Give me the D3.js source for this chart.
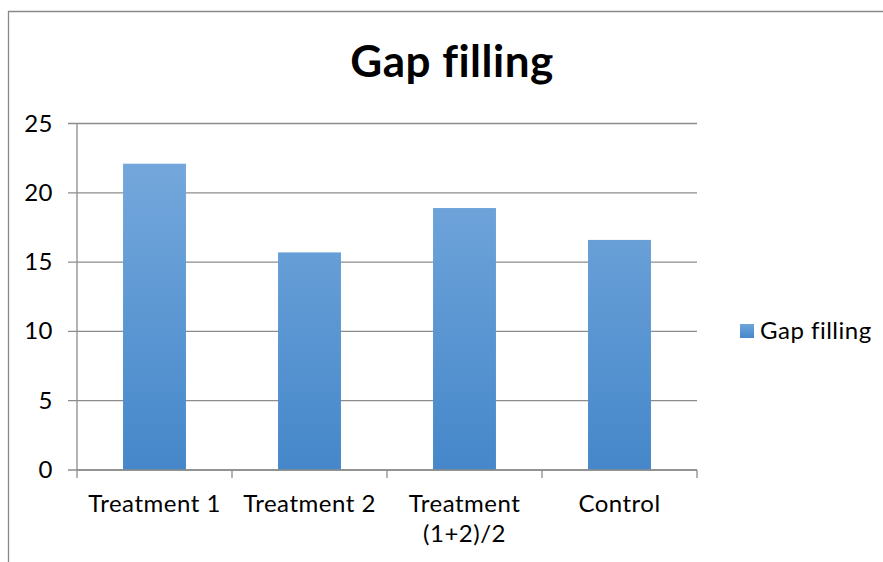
<!DOCTYPE html>
<html>
<head>
<meta charset="utf-8">
<script src="https://cdn.jsdelivr.net/npm/d3@7"></script>
<style>
  html, body { margin: 0; padding: 0; background: #fff; }
  svg { display: block; font-family: Lato, "Open Sans", sans-serif; }
</style>
</head>
<body>
<svg id="chart" width="883" height="562"></svg>
<script>
// Gap filling results per treatment
const categories = ["Treatment 1", "Treatment 2", "Treatment (1+2)/2", "Control"];
const categoryLines = [["Treatment 1"], ["Treatment 2"], ["Treatment", "(1+2)/2"], ["Control"]];
const values = [22.1, 15.7, 18.9, 16.6];
const yTicks = [0, 5, 10, 15, 20, 25];
const seriesName = "Gap filling";
const chartTitle = "Gap filling";

const svg = d3.select("#chart");
const plot = { left: 77, right: 697, top: 123.5, bottom: 470 };
const labelSize = 24;

// outer chart frame (left and top edges visible)
svg.append("path")
  .attr("d", "M8.5,562 V11.5 H883")
  .attr("fill", "none")
  .attr("stroke", "#888")
  .attr("stroke-width", 1.3);

const x = d3.scaleBand()
  .domain(categories)
  .range([plot.left, plot.right])
  .paddingInner(0.594)
  .paddingOuter(0.297);

const xCat = d3.scaleBand()
  .domain(categories)
  .range([plot.left, plot.right]);

const y = d3.scaleLinear()
  .domain([0, 25])
  .range([plot.bottom, plot.top]);

// gradient fill for bars
const defs = svg.append("defs");
const grad = defs.append("linearGradient")
  .attr("id", "barGrad")
  .attr("gradientUnits", "userSpaceOnUse")
  .attr("x1", 0).attr("x2", 0)
  .attr("y1", y(25)).attr("y2", y(0));
grad.append("stop").attr("offset", "0%").attr("stop-color", "#7AACDE");
grad.append("stop").attr("offset", "100%").attr("stop-color", "#4587CA");

const legGrad = defs.append("linearGradient")
  .attr("id", "legGrad")
  .attr("x1", 0).attr("x2", 0).attr("y1", 0).attr("y2", 1);
legGrad.append("stop").attr("offset", "0%").attr("stop-color", "#6FA6DC");
legGrad.append("stop").attr("offset", "100%").attr("stop-color", "#4587CA");

// horizontal gridlines with left tick stubs
svg.append("g")
  .selectAll("line")
  .data(yTicks)
  .join("line")
  .attr("x1", plot.left - 9)
  .attr("x2", plot.right)
  .attr("y1", d => y(d))
  .attr("y2", d => y(d))
  .attr("stroke", "#8c8c8c")
  .attr("stroke-width", 1.3);

// y axis line
svg.append("line")
  .attr("x1", plot.left).attr("x2", plot.left)
  .attr("y1", plot.top).attr("y2", plot.bottom)
  .attr("stroke", "#8c8c8c")
  .attr("stroke-width", 1.3);

// y tick labels
svg.append("g")
  .selectAll("text")
  .data(yTicks)
  .join("text")
  .attr("x", 53)
  .attr("y", d => y(d) + 8)
  .attr("text-anchor", "end")
  .attr("font-size", labelSize)
  .attr("letter-spacing", "0.5px")
  .attr("fill", "#000")
  .text(d => d);

// bars
svg.append("g")
  .selectAll("rect")
  .data(values)
  .join("rect")
  .attr("x", (d, i) => x(categories[i]))
  .attr("width", x.bandwidth())
  .attr("y", d => y(d))
  .attr("height", d => y(0) - y(d))
  .attr("fill", "url(#barGrad)");

// x axis line and category boundary ticks
svg.append("line")
  .attr("x1", plot.left).attr("x2", plot.right)
  .attr("y1", plot.bottom).attr("y2", plot.bottom)
  .attr("stroke", "#8c8c8c")
  .attr("stroke-width", 1.3);

const boundaries = categories.map(c => xCat(c)).concat([plot.right]);
svg.append("g")
  .selectAll("line")
  .data(boundaries)
  .join("line")
  .attr("x1", d => d).attr("x2", d => d)
  .attr("y1", plot.bottom).attr("y2", plot.bottom + 8)
  .attr("stroke", "#8c8c8c")
  .attr("stroke-width", 1.3);

// category labels
const labels = svg.append("g")
  .selectAll("text")
  .data(categories)
  .join("text")
  .attr("x", d => xCat(d) + xCat.bandwidth() / 2)
  .attr("y", 512)
  .attr("text-anchor", "middle")
  .attr("font-size", labelSize)
  .attr("letter-spacing", "0.5px")
  .attr("fill", "#000");
labels.each(function(d, i) {
  d3.select(this).selectAll("tspan")
    .data(categoryLines[i])
    .join("tspan")
    .attr("x", xCat(d) + xCat.bandwidth() / 2)
    .attr("dy", (t, j) => j === 0 ? 0 : 30)
    .text(t => t);
});

// title
svg.append("text")
  .attr("x", 452)
  .attr("y", 77)
  .attr("text-anchor", "middle")
  .attr("font-size", 44)
  .attr("font-weight", "bold")
  .attr("letter-spacing", "0.5px")
  .attr("fill", "#000")
  .text(chartTitle);

// legend
const legend = svg.append("g");
legend.append("rect")
  .attr("x", 740).attr("y", 324)
  .attr("width", 14).attr("height", 14)
  .attr("fill", "url(#legGrad)");
legend.append("text")
  .attr("x", 760).attr("y", 339)
  .attr("font-size", labelSize)
  .attr("letter-spacing", "0.5px")
  .attr("fill", "#000")
  .text(seriesName);
</script>
</body>
</html>
